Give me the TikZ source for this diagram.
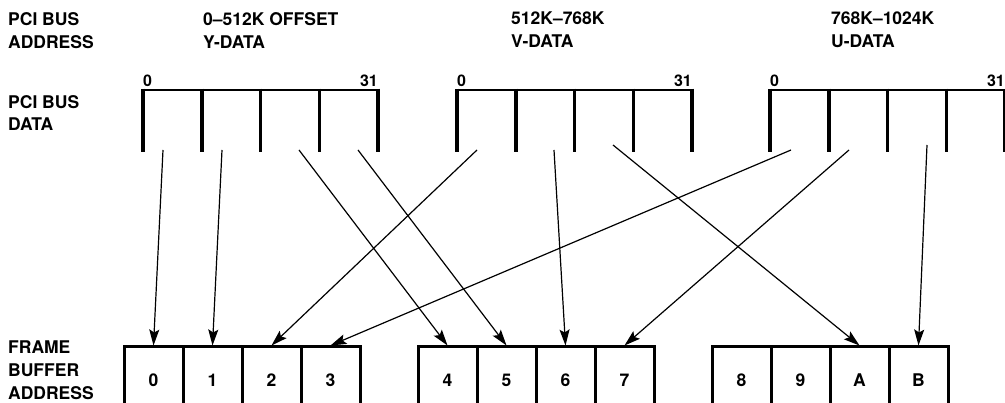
\documentclass[tikz,border=0pt]{standalone}
\usepackage{fontspec}
\setmainfont{TeX Gyre Heros}
\usepackage{tikz}
\usetikzlibrary{arrows.meta}

\begin{document}
\begin{tikzpicture}[x=1pt, y=-1pt,
    lbl/.style={anchor=north west, inner sep=0pt, align=left,
                font=\fontsize{17.5}{23}\selectfont\bfseries},
    bitnum/.style={inner sep=0pt, font=\fontsize{16}{18}\selectfont\bfseries},
    cell/.style={draw, line width=3pt, minimum width=59pt, minimum height=66pt,
                 inner sep=0pt, anchor=north, font=\fontsize{17.5}{20}\selectfont\bfseries},
    flow/.style={-{Stealth[length=16pt, width=10pt, inset=3pt]}, line width=1.2pt}]
  \useasboundingbox (0,0) rectangle (1005,403);
  % Row labels
  \node[lbl] (busaddr) at (8,12) {PCI BUS\\ADDRESS};
  \node[lbl, font=\fontsize{17.5}{22}\selectfont\bfseries] (busdata) at (8,95) {PCI BUS\\DATA};
  \node[lbl] (fbaddr) at (8,341) {FRAME\\BUFFER\\ADDRESS};
  % Address ranges
  \node[lbl] (yrange) at (203,12) {0–512K OFFSET\\Y-DATA};
  \node[lbl] (vrange) at (511,12) {512K–768K\\V-DATA};
  \node[lbl] (urange) at (831,12) {768K–1024K\\U-DATA};
  % 32-bit data words
  \foreach \b/\x in {ybus/143, vbus/457, ubus/770} {
    \draw[line width=2.5pt] (\x,90) -- (\x+235,90);
    \foreach \k in {0,...,4}
      \draw[line width=3.5pt] (\x+\k*58.75,88.75) -- (\x+\k*58.75,152);
    \node[bitnum, anchor=base west] (\b lo) at (\x,87) {0};
    \node[bitnum, anchor=base east] (\b hi) at (\x+235,87) {31};
  }
  % Byte lanes the arrows leave from
  \foreach \i/\x/\y in {y0/163/150, y1/222/150, y2/299/150, y3/358/150,
                        v0/477/150, v1/554/150, v2/613/145,
                        u0/791/150, u1/849/150, u2/927/145}
    \coordinate (\i) at (\x,\y);
  % Frame buffer bytes
  \foreach \i/\x in {0/153.5, 1/212.5, 2/271.5, 3/330.5,
                     4/447.5, 5/506.5, 6/565.5, 7/624.5,
                     8/741.5, 9/800.5, A/859.5, B/918.5}
    \node[cell] (c\i) at (\x,345.5) {\i};
  % Byte mapping
  \foreach \s/\t in {y0/c0, y1/c1, y2/c4, y3/c5, v0/c2, v1/c6, v2/cA,
                     u0/c3, u1/c7, u2/cB}
    \draw[flow] (\s) -- (\t.north);
\end{tikzpicture}
\end{document}
